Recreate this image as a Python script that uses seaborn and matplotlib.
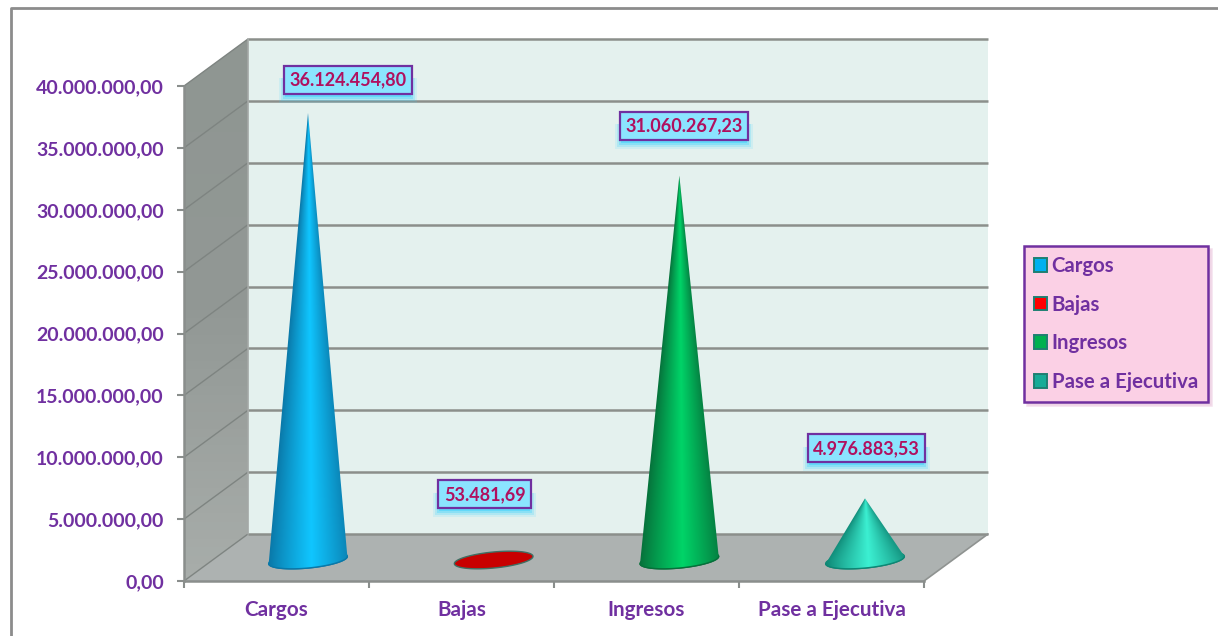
import numpy as np
import pandas as pd
import matplotlib
matplotlib.use("Agg")
import matplotlib.pyplot as plt
from matplotlib.colors import LinearSegmentedColormap, to_rgb
from matplotlib.patches import Polygon, Patch, Rectangle
from matplotlib.lines import Line2D
from matplotlib.transforms import IdentityTransform
import seaborn as sns

# ---------- data ----------
categories = ["Cargos", "Bajas", "Ingresos", "Pase a Ejecutiva"]
values = [36124454.80, 53481.69, 31060267.23, 4976883.53]
y_ticks = [0, 5e6, 10e6, 15e6, 20e6, 25e6, 30e6, 35e6, 40e6]

legend_colors = ["#00b0f0", "#ff0000", "#00b050", "#17ab97"]
cone_light = ["#10c6ff", "#d40000", "#00d468", "#3cf0d2"]
cone_dark = ["#0a78a8", "#b00000", "#06703a", "#0e8674"]

PURPLE = "#7030a0"
LABEL_COL = "#b0105f"
GRID = "#8b8f8b"

W, H = 1218, 636
sns.set_theme(style="white")
plt.rcParams["font.family"] = ["Lato", "DejaVu Sans"]
plt.rcParams["font.weight"] = "bold"

fig = plt.figure(figsize=(W / 100, H / 100), dpi=100, facecolor="white")
L, R, B, T = 184, 924, 581, 86
ax = fig.add_axes([L / W, 1 - B / H, (R - L) / W, (B - T) / H])
ax.patch.set_alpha(0)

df = pd.DataFrame({"cat": categories, "val": values})
sns.barplot(data=df, x="cat", y="val", hue="cat", palette=legend_colors,
            legend=False, dodge=False, ax=ax, order=categories)
bars = list(ax.patches)
for b in bars:
    b.set_visible(False)

ax.set_xlim(-0.5, 3.5)
ax.set_ylim(0, 40e6)
ax.set_xlabel("")
ax.set_ylabel("")

px_x = 4.0 / (R - L)          # category units per pixel
px_y = 40e6 / (B - T)         # value units per pixel
DX, DY = 64 * px_x, 47 * px_y  # chart depth

# ---------- walls ----------
x0, x1 = -0.5, 3.5
ytop = 40e6
wall = Polygon([(x0, 0), (x0, ytop), (x0 + DX, ytop + DY), (x0 + DX, DY)],
               closed=True, fc="none", ec="none", clip_on=False)
ax.add_patch(wall)
cm_wall = LinearSegmentedColormap.from_list("w", ["#8f9692", "#929895", "#a8adaa"])
im = ax.imshow(np.linspace(0, 1, 64)[:, None], extent=(x0, x0 + DX, 0, ytop + DY),
               origin="upper", cmap=cm_wall, aspect="auto", zorder=1)
im.set_clip_box(fig.bbox)
im.set_clip_path(wall)
ax.add_patch(Polygon([(x0 + DX, DY), (x0 + DX, ytop + DY), (x1 + DX, ytop + DY), (x1 + DX, DY)],
                     closed=True, fc="#e4f1ee", ec="none", zorder=1, clip_on=False))
ax.add_patch(Polygon([(x0, 0), (x1, 0), (x1 + DX, DY), (x0 + DX, DY)],
                     closed=True, fc="#adb2b1", ec="none", zorder=1.5, clip_on=False))
for yv in y_ticks:
    ax.plot([x0 + DX, x1 + DX], [yv + DY, yv + DY], color=GRID, lw=1.8, zorder=2,
            clip_on=False, solid_capstyle="butt")
    ax.plot([x0, x0 + DX], [yv, yv + DY], color="#7e8481", lw=1.0, zorder=2, clip_on=False)
ax.plot([x1, x1 + DX], [0, DY], color="#8f9391", lw=1.2, zorder=2, clip_on=False)
ax.plot([x0 + DX, x0 + DX], [DY, ytop + DY], color="#a4a8a6", lw=1.2, zorder=2, clip_on=False)

# ---------- cones built from the bars ----------
A, Bb, TILT = 39.5, 8.0, np.radians(5.5)
OFF_X, OFF_Y, SPREAD = 31.5, 21.0, 0.67


def arc(cx, cy, t):
    ex = A * np.cos(t) * np.cos(TILT) - Bb * np.sin(t) * np.sin(TILT)
    ey = A * np.cos(t) * np.sin(TILT) + Bb * np.sin(t) * np.cos(TILT)
    return cx + ex * px_x, cy + ey * px_y


tips = []
for i, b in enumerate(bars[:len(categories)]):
    xc = b.get_x() + b.get_width() / 2 + (OFF_X + i * SPREAD) * px_x
    yc = OFF_Y * px_y
    h = b.get_height()
    tips.append((xc, yc + h))
    light, dark = np.array(to_rgb(cone_light[i])), np.array(to_rgb(cone_dark[i]))
    tt = np.linspace(0, 2 * np.pi, 160)
    ex, ey = arc(xc, yc, tt)
    base_ec = "#3f6f63" if i == 1 else cone_dark[i]
    ax.add_patch(Polygon(np.c_[ex, ey], closed=True, fc=(light + dark) / 2 if i != 1 else "#c80000",
                         ec=base_ec, lw=1.0, zorder=4, clip_on=False))
    if i == 1:
        continue
    # shaded cone: an image clipped to the silhouette, shading converging on the tip
    ts = np.linspace(np.pi, 2 * np.pi, 90)
    ax_, ay_ = arc(xc, yc, ts)
    sil = Polygon(np.r_[[(xc, yc + h)], np.c_[ax_, ay_]], closed=True, fc="none", ec="none",
                  clip_on=False, zorder=5)
    ax.add_patch(sil)
    xs = np.linspace(xc - 1.1 * A * px_x, xc + 1.1 * A * px_x, 240)
    bot = yc - 1.4 * Bb * px_y
    ys = np.linspace(bot, yc + h, 500)
    XX, YY = np.meshgrid(xs, ys)
    half = np.maximum((yc + h - YY) / h, 0.002) * A * px_x
    half = np.minimum(half, A * px_x)
    U = np.clip((XX - xc) / half, -1, 1)
    F = np.clip(1 - np.abs(U - 0.08) / 1.08, 0, 1) ** 0.9
    rgb = dark[None, None, :] + (light - dark)[None, None, :] * F[..., None]
    cim = ax.imshow(rgb, extent=(xs[0], xs[-1], bot, yc + h), origin="lower",
                    aspect="auto", zorder=5, interpolation="bilinear")
    cim.set_clip_box(fig.bbox)
    cim.set_clip_path(sil)
    ax.plot(ax_, ay_, color=cone_dark[i], lw=1.0, zorder=6, clip_on=False)

ax.set_xlim(-0.5, 3.5)
ax.set_ylim(0, 40e6)

# ---------- axes ----------
sns.despine(ax=ax, top=True, right=True)
for s in ("left", "bottom"):
    ax.spines[s].set_color("#8a8e8c")
    ax.spines[s].set_linewidth(1.8)
    ax.spines[s].set_zorder(3)
ax.set_yticks(y_ticks)
ax.set_yticklabels([f"{int(v):,}".replace(",", ".") + ",00" for v in y_ticks],
                   color=PURPLE, fontsize=14, fontweight="bold")
ax.tick_params(axis="y", direction="out", length=5, width=1.5, color="#8a8e8c", pad=9.5, left=True)
ax.set_xticks(range(4))
ax.set_xticklabels(categories, color=PURPLE, fontsize=14.9, fontweight="bold")
ax.set_xticks([-0.5, 0.5, 1.5, 2.5, 3.5], minor=True)
ax.tick_params(axis="x", which="major", length=0, pad=14, bottom=False)
ax.tick_params(axis="x", which="minor", direction="out", length=5, width=1.5,
               color="#8a8e8c", bottom=True)

# ---------- data labels ----------
label_offsets = [(40, 33), (-9, 65), (4.5, 50), (1.5, 50)]  # pixels from the tip
texts = []
for (tx, ty), v, (ox, oy) in zip(tips, values, label_offsets):
    s = f"{v:,.2f}".replace(",", "#").replace(".", ",").replace("#", ".")
    texts.append(ax.annotate(
        s, xy=(tx, ty), xytext=(ox * 0.72, oy * 0.72), textcoords="offset points",
        ha="center", va="center", color=LABEL_COL, fontsize=13.0, fontweight="bold",
        annotation_clip=False, zorder=9,
        bbox=dict(boxstyle="square,pad=0.3", fc="#8be4ff", ec=PURPLE, lw=1.6)))

fig.canvas.draw()
for t in texts:
    bb = t.get_bbox_patch().get_window_extent()
    for k, a in zip((8, 6, 4, 2), (0.12, 0.2, 0.3, 0.45)):
        ax.add_artist(Rectangle((bb.x0 - k + 3, bb.y0 - k - 1), bb.width + 2 * k - 6, bb.height * 0.6 + k,
                                transform=IdentityTransform(), fc="#35d2ff", ec="none",
                                alpha=a, zorder=8, clip_on=False))

# ---------- legend ----------
handles = [Patch(fc=c, ec="#1f7f72", lw=1.4, label=l) for c, l in zip(legend_colors, categories)]
leg = fig.legend(handles=handles, loc="upper left",
                 bbox_to_anchor=(1024 / W, 1 - 246 / H), bbox_transform=fig.transFigure,
                 fancybox=False, frameon=True, facecolor="#fbd0e5", edgecolor=PURPLE,
                 framealpha=1, fontsize=14.7, labelcolor=PURPLE, handlelength=0.65,
                 handleheight=0.65, handletextpad=0.2, labelspacing=0.91, borderpad=0.5,
                 borderaxespad=0, shadow={"color": "#eccbe0", "alpha": 0.6, "ox": 2, "oy": -2})
leg.get_frame().set_linewidth(1.8)

# ---------- outer frame ----------
fig.add_artist(Line2D([11 / W, 11 / W, 1], [0, 1 - 8 / H, 1 - 8 / H],
                      color="#8c8c8c", lw=2.0, transform=fig.transFigure))

fig.savefig("out.png", dpi=100, facecolor="white")
